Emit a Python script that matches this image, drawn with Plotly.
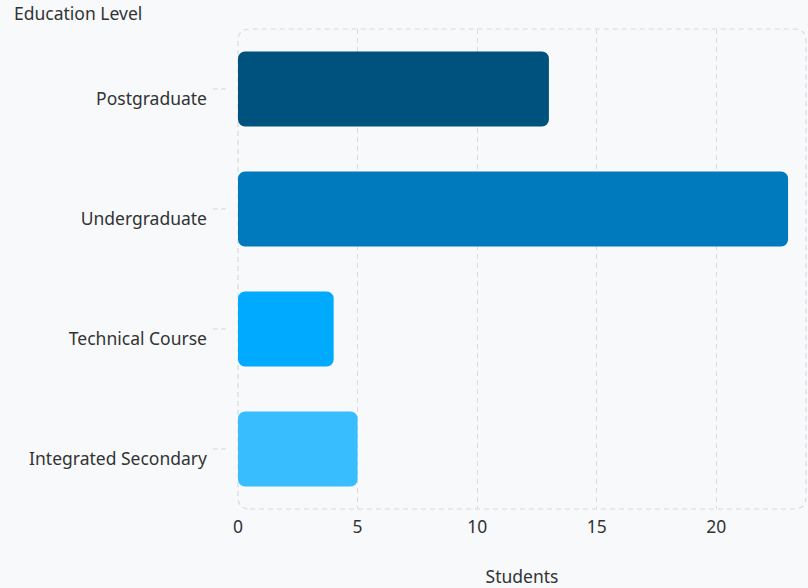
import plotly.graph_objects as go

categories = ["Integrated Secondary", "Technical Course", "Undergraduate", "Postgraduate"]
students = [5, 4, 23, 13]
colors = ["#38BDFE", "#00AAFF", "#007ABD", "#00527E"]
x_ticks = [0, 5, 10, 15, 20]

W, H = 808, 588
ML, MR, MT, MB = 238, 2, 29, 79
pw, ph = W - ML - MR, H - MT - MB
FS = 17.5

fig = go.Figure()
fig.add_trace(go.Bar(
    y=categories, x=students, base=[0] * len(students),
    orientation="h", marker=dict(color=colors, cornerradius=7, line=dict(width=0)),
    width=0.625, hovertemplate="%{y}: %{x}<extra></extra>", showlegend=False))

# rounded dashed plot border
r = 12
rx, ry = r / pw, r / ph
path = (f"M {rx},0 L {1-rx},0 Q 1,0 1,{ry} L 1,{1-ry} Q 1,1 {1-rx},1 "
        f"L {rx},1 Q 0,1 0,{1-ry} L 0,{ry} Q 0,0 {rx},0 Z")
shapes = [dict(type="path", xref="paper", yref="paper", path=path,
               line=dict(color="#D8DBDF", width=1.2, dash="5px,4px"), layer="below")]
# dashed y tick marks
for c in categories:
    shapes.append(dict(type="line", xref="paper", yref="y", x0=-25 / pw, x1=-11 / pw,
                       y0=c, y1=c, line=dict(color="#D5D8DC", width=1.2, dash="5px,3px")))

fig.update_layout(
    width=W, height=H,
    margin=dict(l=ML, r=MR, t=MT, b=MB),
    paper_bgcolor="#F7F9FB", plot_bgcolor="rgba(0,0,0,0)",
    font=dict(family="Noto Sans", size=FS, color="#333333"),
    shapes=shapes,
    xaxis=dict(range=[0, 23.75], tickvals=x_ticks, showgrid=True, gridcolor="#D8DBDF",
               griddash="5px,4px", gridwidth=1.2, zeroline=True, zerolinecolor="rgba(0,0,0,0)",
               showline=False, ticks="", ticklabelstandoff=5, automargin=False,
               title=dict(text="Students", standoff=38, font=dict(size=FS, color="#333333")),
               fixedrange=True),
    yaxis=dict(categoryorder="array", categoryarray=categories, range=[-0.5, 3.5],
               showgrid=False, zeroline=False, showline=False, ticks="", automargin=False,
               ticklabelstandoff=30, ticklabelshift=10, fixedrange=True),
    annotations=[dict(text="Education Level", xref="paper", yref="paper",
                      x=-ML / pw + 12 / pw, y=1 + (MT - 13) / ph, xanchor="left",
                      yanchor="middle", showarrow=False,
                      font=dict(size=FS, color="#333333"))],
)

fig.write_html("out.html")
